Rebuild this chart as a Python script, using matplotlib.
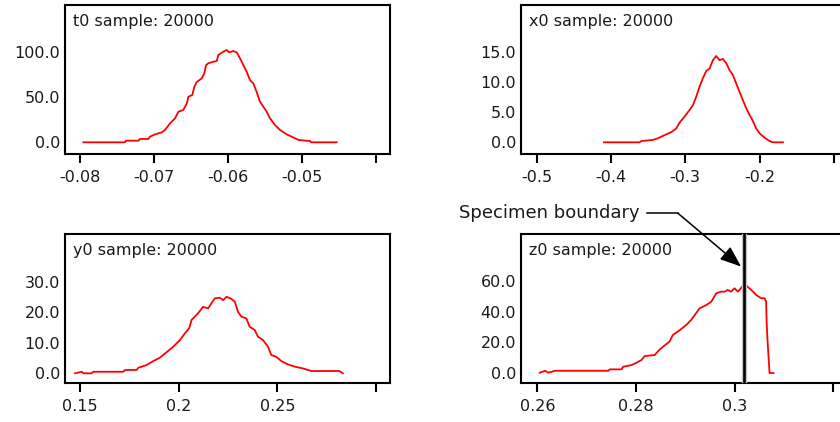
import matplotlib
matplotlib.use("Agg")
import matplotlib.pyplot as plt
from matplotlib.lines import Line2D

plt.rcParams['font.family'] = ['DejaVu Sans']
plt.rcParams['axes.unicode_minus'] = False

# ---------------- data ----------------
t0_x = [-0.07955, -0.07392, -0.07380, -0.07212, -0.07189, -0.07077, -0.07054, -0.06986,
        -0.06896, -0.06851, -0.06784, -0.06716, -0.06671, -0.06604, -0.06558, -0.06536,
        -0.06482, -0.06455, -0.06423, -0.06355, -0.06320, -0.06297, -0.06266, -0.06199,
        -0.06153, -0.06131, -0.06064, -0.06018, -0.05986, -0.05928, -0.05883, -0.05838,
        -0.05793, -0.05748, -0.05703, -0.05658, -0.05613, -0.05568, -0.05523, -0.05477,
        -0.05432, -0.05365, -0.05297, -0.05207, -0.05140, -0.05050, -0.04892, -0.04878,
        -0.04531]
t0_y = [0, 0, 1.8, 1.8, 3.7, 3.7, 6.3, 8.8,
        11, 13.7, 21, 26.6, 34, 36, 43, 50.7,
        52.6, 61.8, 67, 71, 76.7, 85.9, 87.8, 89.6,
        90.3, 97, 100.7, 102.6, 100, 101.4, 100, 93.3,
        85.9, 78.5, 69, 65.5, 56, 45, 39.6, 34,
        26.6, 19.2, 13.7, 8.8, 6.3, 2.6, 1.4, 0,
        0]

x0_x = [-0.4094, -0.3614, -0.3592, -0.3435, -0.3367, -0.3277, -0.3188, -0.3121,
        -0.3075, -0.3008, -0.2941, -0.2896, -0.2852, -0.2806, -0.2762, -0.2717,
        -0.2672, -0.2627, -0.2583, -0.2537, -0.2493, -0.2448, -0.2402, -0.2358,
        -0.2313, -0.2268, -0.2223, -0.2179, -0.2133, -0.2089, -0.2044, -0.1999,
        -0.1931, -0.1864, -0.1819, -0.1685]
x0_y = [0, 0, 0.2, 0.4, 0.67, 1.2, 1.7, 2.3,
        3.3, 4.3, 5.4, 6.2, 7.6, 9.3, 10.7, 11.9,
        12.3, 13.7, 14.4, 13.7, 13.9, 13.2, 12.0, 11.2,
        9.8, 8.4, 7.0, 5.7, 4.55, 3.55, 2.3, 1.5,
        0.77, 0.2, 0, 0]

y0_x = [0.1475, 0.1509, 0.1517, 0.1559, 0.1567, 0.1719, 0.1728, 0.1787,
        0.1795, 0.1837, 0.1871, 0.1904, 0.1938, 0.1972, 0.2006, 0.2031,
        0.2053, 0.2065, 0.2098, 0.2123, 0.2149, 0.2166, 0.2183, 0.2208,
        0.2225, 0.2242, 0.2267, 0.2284, 0.2300, 0.2317, 0.2343, 0.2359,
        0.2385, 0.2401, 0.2427, 0.2452, 0.2469, 0.2494, 0.2520, 0.2553,
        0.2587, 0.2629, 0.2671, 0.2814, 0.2831]
y0_y = [0, 0.5, 0, 0, 0.5, 0.5, 1.1, 1.1,
        1.8, 2.7, 4.0, 5.1, 6.9, 8.7, 10.9, 13.1,
        14.8, 17.5, 19.7, 21.8, 21.3, 23.0, 24.6, 24.8,
        24.0, 25.1, 24.4, 23.5, 20.2, 18.6, 18.0, 15.3,
        14.2, 12.0, 10.9, 8.7, 6.0, 5.4, 4.0, 2.9,
        2.2, 1.6, 0.75, 0.75, 0]

z0_x = [0.2605, 0.2616, 0.2622, 0.2636, 0.2639, 0.2744, 0.2747, 0.2771,
        0.2774, 0.2791, 0.2801, 0.2811, 0.2818, 0.2838, 0.2847, 0.2855,
        0.2868, 0.2875, 0.2889, 0.2902, 0.2912, 0.2922, 0.2929, 0.2943,
        0.2953, 0.2963, 0.2973, 0.2980, 0.2986, 0.2993, 0.3000, 0.3007,
        0.3017, 0.3024, 0.3034, 0.3044, 0.3054, 0.3061, 0.3064, 0.3065,
        0.3067, 0.3071, 0.3079]
z0_y = [0.2, 1.5, 0.2, 1.5, 1.5, 1.5, 2.4, 2.4,
        4.1, 5.2, 6.7, 8.5, 11.1, 11.8, 15.0, 17.2,
        20.5, 24.9, 28.1, 31.4, 34.7, 39.1, 42.3, 44.5,
        46.7, 52.2, 53.2, 53.2, 54.3, 53.2, 55.4, 53.2,
        57.1, 57.1, 54.3, 51.0, 48.9, 48.9, 46.7, 33.6,
        20.5, 0, 0]

boundary_z = 0.3020

names = ["t0", "x0", "y0", "z0"]
sample_size = 20000

xticks = [[-0.08, -0.07, -0.06, -0.05, -0.04],
          [-0.5, -0.4, -0.3, -0.2, -0.1],
          [0.15, 0.2, 0.25, 0.3],
          [0.26, 0.28, 0.3, 0.32]]
xticklabels = [["-0.08", "-0.07", "-0.06", "-0.05", ""],
               ["-0.5", "-0.4", "-0.3", "-0.2", ""],
               ["0.15", "0.2", "0.25", ""],
               ["0.26", "0.28", "0.3", ""]]
yticks = [[0, 50, 100], [0, 5, 10, 15], [0, 10, 20, 30], [0, 20, 40, 60]]

xlims = [(-0.08203, -0.03811), (-0.521, -0.0836), (0.1424, 0.3070), (0.2567, 0.3226)]
ylims = [(-13, 152.6), (-1.95, 22.9), (-3.28, 45.8), (-6.7, 90.7)]

series = [(t0_x, t0_y), (x0_x, x0_y), (y0_x, y0_y), (z0_x, z0_y)]

# ---------------- figure ----------------
fig = plt.figure(figsize=(8.4, 4.22), dpi=100)
W, H = 840.0, 422.0
boxes = [(65, 5, 154), (521, 5, 154), (65, 233.7, 383.3), (521, 234.3, 383.3)]
axes = []
TXT = '#1a1a1a'
for i, (lx, top, bot) in enumerate(boxes):
    ax = fig.add_axes([lx / W, (H - bot) / H, 325 / W, (bot - top) / H])
    axes.append(ax)
    xs, ys = series[i]
    ax.plot(xs, ys, color='#ff0000', lw=1.3)
    ax.set_xlim(*xlims[i])
    ax.set_ylim(*ylims[i])
    ax.set_xticks(xticks[i])
    ax.set_xticklabels(xticklabels[i])
    ax.set_yticks(yticks[i])
    ax.set_yticklabels([f"{v:.1f}" for v in yticks[i]])
    for s in ax.spines.values():
        s.set_linewidth(1.5)
        s.set_color('black')
    ax.tick_params(axis='x', direction='out', length=6.5, width=1.5, pad=5,
                   labelsize=11.5, labelcolor=TXT)
    ax.tick_params(axis='y', length=0, pad=3.6, labelsize=11.5, labelcolor=TXT)
    ax.text(0.025, 0.888, f"{names[i]} sample: {sample_size}", transform=ax.transAxes,
            ha='left', va='center', fontsize=11.5, color=TXT)

ax4 = axes[3]
ax4.axvline(boundary_z, color='#c4c4c4', lw=3.8, zorder=3)
ax4.axvline(boundary_z, color='black', lw=1.9, zorder=4)

# annotation "Specimen boundary"
ax4.text(0.28077, 104.5, "Specimen boundary", ha='right', va='center',
         fontsize=13, color=TXT, clip_on=False)
ax4.add_line(Line2D([0.28218, 0.28851], [104.5, 104.5], color='black', lw=1.1,
                    clip_on=False))
ax4.annotate("", xy=(0.30133, 69.6), xytext=(0.28851, 104.5),
             arrowprops=dict(arrowstyle='-|>,head_length=1.3,head_width=0.5',
                             color='black', lw=1.1, shrinkA=0, shrinkB=0),
             annotation_clip=False)

fig.savefig("out.png", dpi=100)
